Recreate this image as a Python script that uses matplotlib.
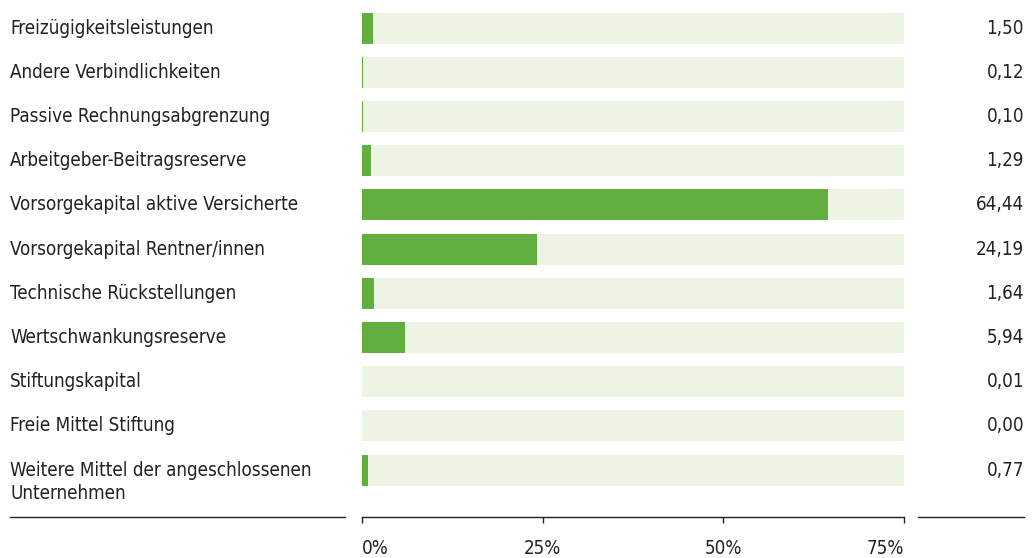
import matplotlib
matplotlib.use('Agg')
import matplotlib.pyplot as plt
from matplotlib.lines import Line2D
from matplotlib.transforms import blended_transform_factory

# Daten
categories = [
  'Freizügigkeitsleistungen',
  'Andere Verbindlichkeiten',
  'Passive Rechnungsabgrenzung',
  'Arbeitgeber-Beitragsreserve',
  'Vorsorgekapital aktive Versicherte',
  'Vorsorgekapital Rentner/innen',
  'Technische Rückstellungen',
  'Wertschwankungsreserve',
  'Stiftungskapital',
  'Freie Mittel Stiftung',
  'Weitere Mittel der angeschlossenen\nUnternehmen',
]
values = [1.50, 0.12, 0.10, 1.29, 64.44, 24.19, 1.64, 5.94, 0.01, 0.00, 0.77]
ticks = [0, 25, 50, 75]
tick_labels = ['0%', '25%', '50%', '75%']

BAR = '#62ae3e'
TRACK = '#eef4e3'
TXT = '#222222'
FS = 13.5

plt.rcParams['font.family'] = ['DejaVu Sans']
plt.rcParams['font.stretch'] = 'condensed'

W, H = 1032, 558
fig = plt.figure(figsize=(W / 100, H / 100), dpi=100)
ax = fig.add_axes([362 / W, 1 - 517 / H, 542 / W, 511 / H])

rows = list(range(len(categories)))
ax.barh(rows, [75] * len(rows), height=0.7, color=TRACK, zorder=1)
ax.barh(rows, values, height=0.7, color=BAR, zorder=2)

ax.set_xlim(0, 75)
ax.set_ylim(11.06, -0.5)
ax.set_yticks([])
ax.set_xticks(ticks)
ax.set_xticklabels(tick_labels, fontsize=FS, color=TXT)
ax.tick_params(axis='x', direction='out', length=4.5, width=1, color='#222', pad=11)
xl = ax.get_xticklabels()
xl[0].set_horizontalalignment('left')
xl[-1].set_horizontalalignment('right')
for s in ['top', 'left', 'right']:
  ax.spines[s].set_visible(False)
ax.spines['bottom'].set_color('#222')
ax.spines['bottom'].set_linewidth(1)

# Beschriftungen links und Werte rechts
tr = blended_transform_factory(fig.transFigure, ax.transData)
for i, (cat, v) in enumerate(zip(categories, values)):
  y = i + 0.27 if '\n' in cat else i
  ax.text(10 / W, y, cat, transform=tr, ha='left', va='center',
          fontsize=FS, color=TXT, linespacing=1.3)
  ax.text(1024 / W, i, ('%.2f' % v).replace('.', ','), transform=tr,
          ha='right', va='center', fontsize=FS, color=TXT)

# Linien unten links und rechts
yl = 1 - 517 / H
fig.add_artist(Line2D([10 / W, 345 / W], [yl, yl], color='#222', lw=1))
fig.add_artist(Line2D([918 / W, 1024 / W], [yl, yl], color='#222', lw=1))

fig.savefig('out.png', dpi=100)
